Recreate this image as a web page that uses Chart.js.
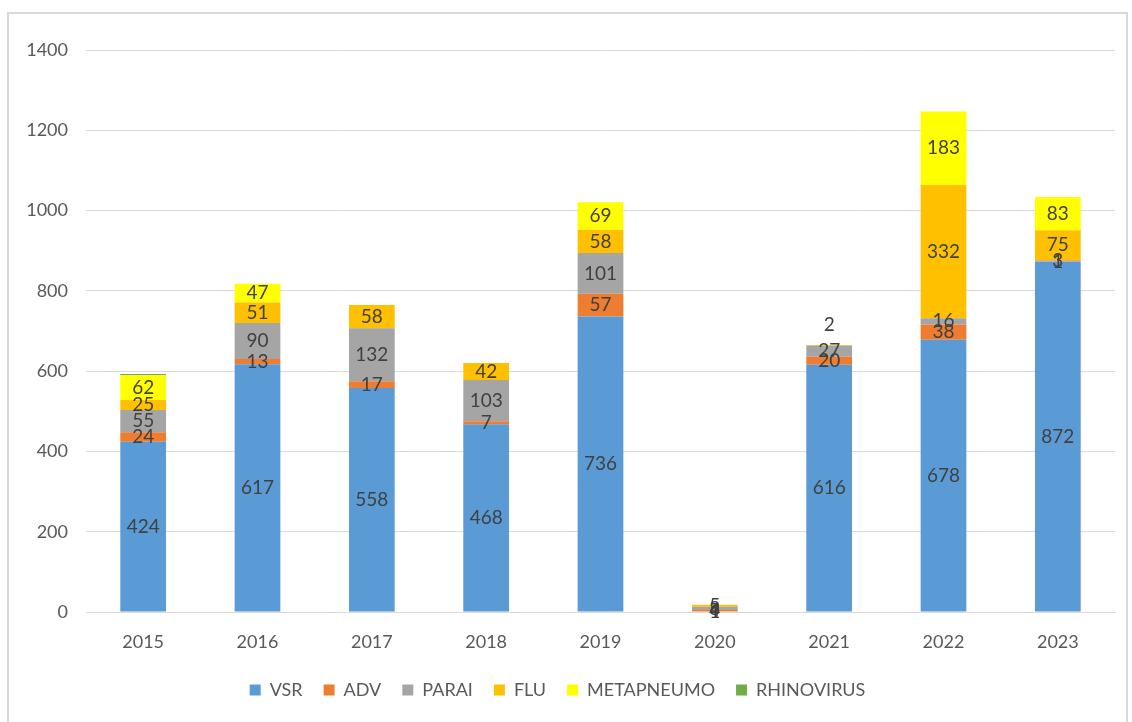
<!DOCTYPE html>
<html><head><meta charset="utf-8">
<script src="https://cdn.jsdelivr.net/npm/chart.js@4"></script>
<style>
html,body{margin:0;padding:0;background:#fff;}
#wrap{position:relative;width:1132px;height:722px;}
#frame{position:absolute;left:7px;top:12px;width:1121px;height:720px;border:2px solid #d9d9d9;box-sizing:border-box;pointer-events:none;}
canvas{position:absolute;left:0;top:0;}
</style></head>
<body>
<div id="wrap"><canvas id="c" width="1132" height="722"></canvas><div id="frame"></div></div>
<script>
const years = ['2015','2016','2017','2018','2019','2020','2021','2022','2023'];
const VSR        = [424, 617, 558, 468, 736, 1, 616, 678, 872];
const ADV        = [24, 13, 17, 7, 57, 4, 20, 38, 1];
const PARAI      = [55, 90, 132, 103, 101, 8, 27, 16, 3];
const FLU        = [25, 51, 58, 42, 58, 5, 2, 332, 75];
const METAPNEUMO = [62, 47, 0, 0, 69, 0, 0, 183, 83];
const RHINOVIRUS = [3, 0, 0, 0, 0, 0, 0, 0, 0];
const yTicks = [0, 200, 400, 600, 800, 1000, 1200, 1400];

const FONT = 'Lato, "Liberation Sans", sans-serif';
const mk = (label, data, color, showLabels) => ({label, data, backgroundColor: color, borderWidth: 0, barPercentage: 0.4, categoryPercentage: 1, showLabels});

const labelPlugin = {
  id: 'segLabels',
  afterDatasetsDraw(chart) {
    const ctx = chart.ctx;
    ctx.save();
    ctx.font = '19px ' + FONT;
    ctx.fillStyle = '#404040';
    ctx.textAlign = 'center';
    ctx.textBaseline = 'middle';
    chart.data.datasets.forEach((ds, di) => {
      if (!ds.showLabels) return;
      const meta = chart.getDatasetMeta(di);
      meta.data.forEach((bar, i) => {
        const v = ds.data[i];
        if (!v) return;
        const h = Math.abs(bar.base - bar.y);
        let top = true;
        for (let k = di + 1; k < chart.data.datasets.length; k++) if (chart.data.datasets[k].data[i]) top = false;
        let y = (bar.y + bar.base) / 2;
        if (top && h < 3 && bar.y < chart.scales.y.getPixelForValue(100)) y = bar.y - 20;
        ctx.fillText(String(v), bar.x, y);
      });
    });
    ctx.restore();
  }
};

new Chart(document.getElementById('c'), {
  type: 'bar',
  data: {
    labels: years,
    datasets: [
      mk('VSR', VSR, '#5B9BD5', true),
      mk('ADV', ADV, '#ED7D31', true),
      mk('PARAI', PARAI, '#A5A5A5', true),
      mk('FLU', FLU, '#FFC000', true),
      mk('METAPNEUMO', METAPNEUMO, '#FFFF00', true),
      mk('RHINOVIRUS', RHINOVIRUS, '#70AD47', false)
    ]
  },
  options: {
    responsive: false,
    animation: false,
    layout: {padding: {left: 0, right: 17, top: 50, bottom: 13}},
    plugins: {
      tooltip: {enabled: false},
      legend: {
        position: 'bottom',
        labels: {boxWidth: 11, boxHeight: 11, padding: 21, color: '#595959', font: {family: FONT, size: 18}}
      }
    },
    scales: {
      x: {
        stacked: true,
        grid: {display: false, drawTicks: false},
        border: {color: '#d9d9d9', width: 1},
        ticks: {color: '#595959', font: {family: FONT, size: 18}, padding: 19},
        afterFit: s => { s.height = 48; }
      },
      y: {
        stacked: true,
        min: 0, max: 1400,
        afterBuildTicks: s => { s.ticks = yTicks.map(v => ({value: v})); },
        grid: {color: '#d9d9d9', drawTicks: false},
        border: {display: false},
        ticks: {color: '#595959', font: {family: FONT, size: 18}, padding: 18, callback: v => String(v)},
        afterFit: s => { s.width = 86; }
      }
    }
  },
  plugins: [labelPlugin]
});
</script>
</body></html>
